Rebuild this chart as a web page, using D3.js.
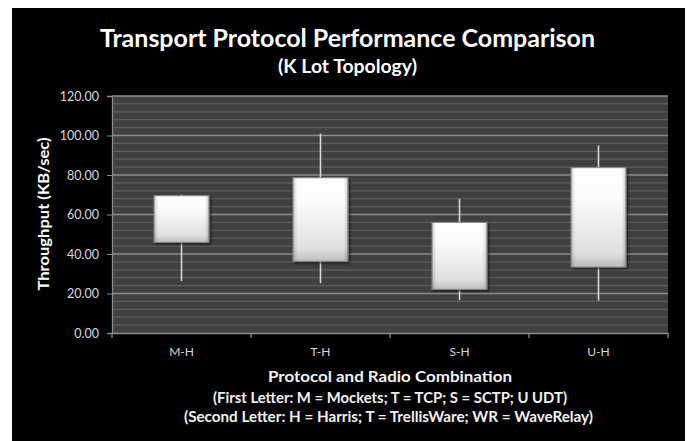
<!DOCTYPE html>
<html><head><meta charset="utf-8">
<script src="https://cdn.jsdelivr.net/npm/d3@7"></script>
<style>body{margin:0;background:#fff;}svg{display:block;}</style>
</head><body>
<script>
const categories = ["M-H","T-H","S-H","U-H"];
const highs  = [70.0, 101.0, 67.8, 95.0];
const lows   = [26.3, 25.2, 16.7, 16.4];
const boxTop = [69.5, 78.6, 56.0, 83.7];
const boxBot = [45.9, 36.3, 22.1, 33.4];
const yTicks = [0,20,40,60,80,100,120];

const W=690,H=441;
const svg=d3.select("body").append("svg").attr("width",W).attr("height",H);
const font="Lato, 'Open Sans', sans-serif";
svg.append("rect").attr("x",12).attr("y",8).attr("width",673).attr("height",433).attr("fill","#000");

const x=d3.scaleBand().domain(categories).range([112,668]);
const y=d3.scaleLinear().domain([0,120]).range([333,96]);

const defs=svg.append("defs");
const g1=defs.append("linearGradient").attr("id","boxg").attr("x1",0).attr("y1",0).attr("x2",0).attr("y2",1);
g1.append("stop").attr("offset","0").attr("stop-color","#ffffff");
g1.append("stop").attr("offset","0.3").attr("stop-color","#fbfbfb");
g1.append("stop").attr("offset","0.85").attr("stop-color","#e0e0e0");
g1.append("stop").attr("offset","1").attr("stop-color","#bdbdbd");
const g2=defs.append("linearGradient").attr("id","sideg").attr("x1",0).attr("y1",0).attr("x2",1).attr("y2",0);
g2.append("stop").attr("offset","0").attr("stop-color","#000").attr("stop-opacity",0.18);
g2.append("stop").attr("offset","0.08").attr("stop-color","#000").attr("stop-opacity",0);
g2.append("stop").attr("offset","0.92").attr("stop-color","#000").attr("stop-opacity",0);
g2.append("stop").attr("offset","1").attr("stop-color","#000").attr("stop-opacity",0.18);
const f=defs.append("filter").attr("id","sh").attr("x","-20%").attr("y","-20%").attr("width","150%").attr("height","150%");
f.append("feDropShadow").attr("dx",1.5).attr("dy",1.5).attr("stdDeviation",1.2).attr("flood-color","#000").attr("flood-opacity",0.6);

// plot bg
svg.append("rect").attr("x",112).attr("y",y(120)).attr("width",556).attr("height",y(0)-y(120)).attr("fill","#404040");
// minor grid
const minor=d3.range(4,120,4).filter(v=>v%20!==0);
svg.append("g").selectAll("line").data(minor).join("line")
 .attr("x1",112).attr("x2",668).attr("y1",d=>y(d)).attr("y2",d=>y(d))
 .attr("stroke","#5e5e5e").attr("stroke-width",1.2);
svg.append("g").selectAll("line").data(yTicks.filter(v=>v>0)).join("line")
 .attr("x1",112).attr("x2",668).attr("y1",d=>y(d)).attr("y2",d=>y(d))
 .attr("stroke","#8c8c8c").attr("stroke-width",1.3);

// axes
const ya=svg.append("g").attr("transform","translate(112,0)")
 .call(d3.axisLeft(y).tickValues(yTicks).tickFormat(d3.format(".2f")).tickSize(5).tickPadding(8));
ya.select(".domain").attr("stroke","#8c8c8c").attr("stroke-width",1.3);
ya.selectAll("line").attr("stroke","#8c8c8c");
ya.selectAll("text").attr("fill","#d9d9d9").attr("font-family",font).attr("font-size",12.5);

const xa=svg.append("g").attr("transform","translate(0,333)")
 .call(d3.axisBottom(x).tickSize(0).tickPadding(14));
xa.select(".domain").attr("stroke","#8c8c8c").attr("stroke-width",1.3);
xa.selectAll("text").attr("fill","#d9d9d9").attr("font-family",font).attr("font-size",12);
svg.append("g").selectAll("line").data(d3.range(5)).join("line")
 .attr("x1",i=>112+i*x.step()).attr("x2",i=>112+i*x.step()).attr("y1",333).attr("y2",338)
 .attr("stroke","#8c8c8c").attr("stroke-width",1.3);

// whiskers
const data=categories.map((c,i)=>({c,hi:highs[i],lo:lows[i],t:boxTop[i],b:boxBot[i]}));
const cx=d=>x(d.c)+x.bandwidth()/2;
svg.append("g").selectAll("line").data(data).join("line")
 .attr("x1",cx).attr("x2",cx).attr("y1",d=>y(d.hi)).attr("y2",d=>y(d.lo))
 .attr("stroke","#d8d8d8").attr("stroke-width",1.6);
const bw=55;
const bx=svg.append("g").selectAll("g").data(data).join("g");
bx.append("rect").attr("x",d=>cx(d)-bw/2).attr("y",d=>y(d.t)).attr("width",bw).attr("height",d=>y(d.b)-y(d.t))
 .attr("fill","url(#boxg)").attr("stroke","#8a8a8a").attr("stroke-width",1).attr("filter","url(#sh)");
bx.append("rect").attr("x",d=>cx(d)-bw/2).attr("y",d=>y(d.t)).attr("width",bw).attr("height",d=>y(d.b)-y(d.t))
 .attr("fill","url(#sideg)");

// titles
function txt(xp,yp,s,size,len,color){
  return svg.append("text").attr("x",xp).attr("y",yp).attr("text-anchor","middle").attr("fill",color||"#fff")
   .attr("font-family",font).attr("font-weight","bold").attr("font-size",size)
   .attr("textLength",len).attr("lengthAdjust","spacingAndGlyphs").text(s);
}
txt(347.5,47,"Transport Protocol Performance Comparison",24,495);
txt(347.5,73,"(K Lot Topology)",18,139);
txt(0,0,"Throughput (KB/sec)",15.5,153).attr("transform","translate(49,214) rotate(-90)");
txt(390,382,"Protocol and Radio Combination",15.5,244,"#f2f2f2");
txt(390,403,"(First Letter: M = Mockets; T = TCP; S = SCTP; U UDT)",14.5,354,"#f2f2f2");
txt(388.5,422,"(Second Letter: H = Harris; T = TrellisWare; WR = WaveRelay)",14.5,409,"#f2f2f2");
</script>
</body></html>
